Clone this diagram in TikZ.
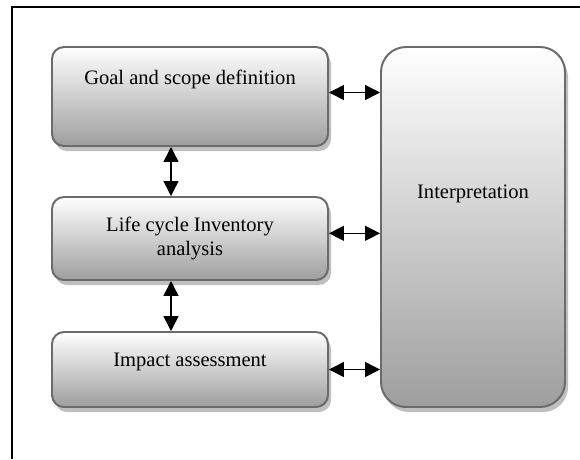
\documentclass[tikz,border=0pt]{standalone}
\usepackage{fontspec}
\setmainfont{Liberation Serif}
\usetikzlibrary{shadows,arrows.meta}

\begin{document}
\begin{tikzpicture}[
  stagebox/.style={draw=black!58, line width=1.4pt, rounded corners=0.3cm, top color=white, bottom color=black!38,
    drop shadow={shadow xshift=0.075cm, shadow yshift=-0.125cm, fill=black!25, opacity=1},
    minimum width=6.9cm, align=center, font=\fontsize{14.6}{17.1}\selectfont},
  both/.style={{Triangle[length=0.375cm,width=0.375cm]}-{Triangle[length=0.375cm,width=0.375cm]}, line width=1pt}]
\useasboundingbox (0,0) rectangle (14.5,11.475);
\draw [line width=1.2pt](0.3,0)--(0.3,11.3)--(14.5,11.3);
\node[stagebox, minimum height=2.475cm, text height=0.35cm, text depth=0.975cm] (goal) at (4.75,9.0625) {Goal and scope definition};
\node[stagebox, minimum height=2.075cm] (life) at (4.75,5.5125) {Life cycle Inventory\\analysis};
\node[stagebox, minimum height=1.875cm, text height=0.35cm, text depth=0.49cm] (impact) at (4.75,2.2375) {Impact assessment};
\node[stagebox, rounded corners=0.625cm, minimum width=4.6cm, minimum height=9cm, text height=0.35cm, text depth=1.8cm] (interp) at (11.825,5.8) {Interpretation};
\draw [both] ([yshift=0.1cm]goal.east) -- ([yshift=0.1cm]goal.east -| interp.west);
\draw [both] ([yshift=0.13cm]life.east) -- ([yshift=0.13cm]life.east -| interp.west);
\draw [both] (impact.east) -- (impact.east -| interp.west);
\draw [both] ([xshift=-0.475cm]goal.south) -- ([xshift=-0.475cm]life.north);
\draw [both] ([xshift=-0.475cm]life.south) -- ([xshift=-0.475cm]impact.north);
\end{tikzpicture}
\end{document}
